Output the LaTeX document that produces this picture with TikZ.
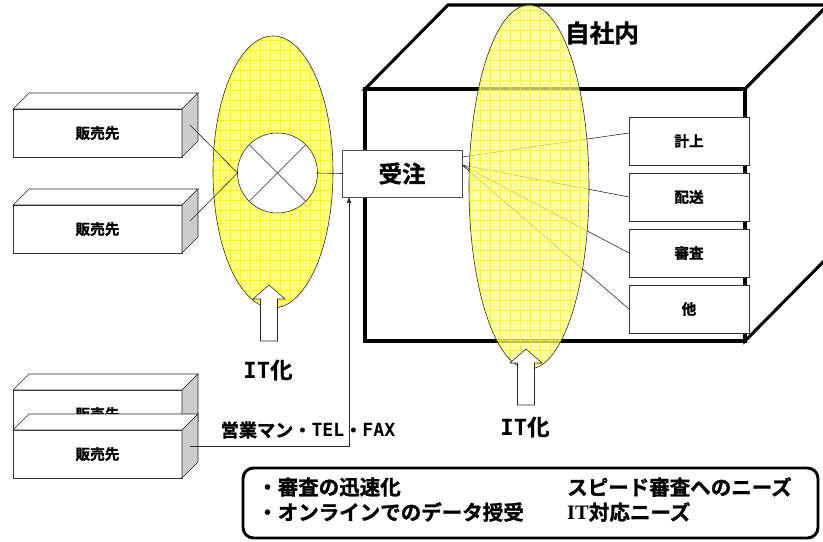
\documentclass[tikz,border=0pt]{standalone}
\usepackage{fontspec}
\newfontfamily\jp{Noto Sans CJK JP}[BoldFont={Noto Sans CJK JP Bold}, BoldFeatures={FakeBold=1.2}]
\newfontfamily\mono{DejaVu Sans Mono}
\newfontfamily\romanit{Liberation Serif}
\usetikzlibrary{arrows.meta}
\definecolor{hilite}{RGB}{255,255,125}
\definecolor{hiline}{RGB}{255,250,0}
\tikzset{
  shopbox/.style={draw=black!80, fill=white, line width=0.5pt, minimum width=5.07cm, minimum height=1.44cm,
    inner sep=0pt, outer sep=0pt, font=\jp\bfseries\fontsize{12.5}{12.5}\selectfont},
  taskbox/.style={draw=black!80, fill=white, line width=0.5pt, minimum width=3.6cm, minimum height=1.44cm,
    inner sep=0pt, outer sep=0pt, font=\jp\bfseries\fontsize{12.5}{12.5}\selectfont},
  thinline/.style={draw=black!85, line width=0.5pt},
  wall/.style={draw=black, line width=2.6pt, fill=white, line join=miter},
  hilite grid/.style={hiline, line width=0.8pt, step=0.3cm},
}

\begin{document}
\begin{tikzpicture}[x=0.03cm, y=-0.03cm]
  \useasboundingbox (0,0) rectangle (823,542);

  % Company building
  \draw[wall] (365,89) -- (448,5) -- (828,5) -- (745,89) -- cycle;
  \draw[wall] (745,89) -- (828,5) -- (828,257) -- (745,341) -- cycle;
  \draw[wall] (365,89) rectangle (745,341);
  \node[font=\jp\bfseries\fontsize{21}{21}\selectfont] (inhouse) at (602,33) {自社内};

  % Customers
  \foreach \n/\y in {s1/133, s2/229, s3/414, s4/454} {
    \node[shopbox] (\n) at (97.5,\y) {販売先};
    \draw[thinline, fill=white] (\n.north west) -- ++(16,-16) -- ([shift={(16,-16)}]\n.north east) -- (\n.north east) -- cycle;
    \draw[thinline, fill=black!20] (\n.north east) -- ++(16,-16) -- ([shift={(16,-16)}]\n.south east) -- (\n.south east) -- cycle;
    \coordinate (\n-r) at ([shift={(8,-8)}]\n.east);
  }

  % Left IT ellipse
  \fill[hilite] (273,172) ellipse [x radius=1.8cm, y radius=4.08cm];
  \begin{scope}
    \clip (273,172) ellipse [x radius=1.8cm, y radius=4.08cm];
    \draw[hilite grid] (210,312) grid (336,33);
  \end{scope}
  \draw[thinline] (273,172) ellipse [x radius=1.8cm, y radius=4.08cm];

  \node[circle, draw=black!85, line width=0.5pt, fill=white, minimum size=2.4cm, inner sep=0pt, outer sep=0pt] (mix) at (277.5,173) {};
  \draw[thinline] (mix.north west) -- (mix.south east);
  \draw[thinline] (mix.north east) -- (mix.south west);
  \draw[thinline] (s1-r) -- (mix.west);
  \draw[thinline] (s2-r) -- (mix.west);

  % Order intake
  \node[draw=black!70, line width=0.5pt, fill=white, minimum width=3.6cm, minimum height=1.41cm, inner sep=0pt, outer sep=0pt,
    font=\jp\bfseries\fontsize{20}{20}\selectfont] (order) at (402,173.5) {受注};
  \draw[thinline] (mix.east) -- (order.west);
  \draw[thinline, -{Latex[length=5pt, width=4pt]}] (s4-r) -| ([xshift=0.21cm]order.south west);
  \node[font=\fontsize{15.5}{15.5}\selectfont] (sales) at (308,430)
    {{\jp\bfseries 営業マン・}{\mono\bfseries TEL}{\jp\bfseries ・}{\mono\bfseries FAX}};

  % In-house tasks
  \foreach \n/\t/\y in {book/計上/141, ship/配送/197, check/審査/253, other/他/309}
    \node[taskbox] (\n) at (689,\y) {\t};
  \coordinate (fan-a) at ([yshift=0.495cm]order.east);
  \coordinate (fan-b) at ([yshift=0.255cm]order.east);
  \draw[thinline] (fan-a) -- ([yshift=0.24cm]book.west);
  \foreach \n in {ship, check, other}
    \draw[thinline] (fan-b) -- (\n.west);

  % Right IT ellipse
  \begin{scope}[opacity=0.72]
    \fill[hilite] (529,187) ellipse [x radius=1.8cm, y radius=5.46cm];
    \clip (529,187) ellipse [x radius=1.8cm, y radius=5.46cm];
    \draw[hilite grid] (465,372) grid (593,2);
  \end{scope}
  \draw[thinline] (529,187) ellipse [x radius=1.8cm, y radius=5.46cm];

  % IT arrows
  \foreach \x/\y in {269/285, 526/349}
    \draw[thinline, fill=white] (\x,\y) -- ++(16,14) -- ++(-7.5,0) -- ++(0,42) -- ++(-17,0) -- ++(0,-42) -- ++(-7.5,0) -- cycle;
  \node[font=\fontsize{19}{19}\selectfont] (it-left) at (268,370) {{\mono\bfseries IT}{\jp\bfseries 化}};
  \node[font=\fontsize{19}{19}\selectfont] (it-right) at (525,427) {{\mono\bfseries IT}{\jp\bfseries 化}};

  % Needs box
  \draw[line width=2.5pt, rounded corners=9pt] (243,468) rectangle (818,538);
  \node[anchor=west, inner sep=0pt, font=\jp\bfseries\fontsize{17.5}{17.5}\selectfont] (need-a) at (257,487) {・審査の迅速化};
  \node[anchor=west, inner sep=0pt, font=\jp\bfseries\fontsize{17.5}{17.5}\selectfont] (need-b) at (257,512) {・オンラインでのデータ授受};
  \node[anchor=west, inner sep=0pt, font=\jp\bfseries\fontsize{17.5}{17.5}\selectfont] (need-c) at (567,487) {スピード審査へのニーズ};
  \node[anchor=west, inner sep=0pt, font=\jp\bfseries\fontsize{17.5}{17.5}\selectfont] (need-d) at (567,512) {{\romanit\bfseries IT}対応ニーズ};
\end{tikzpicture}
\end{document}
